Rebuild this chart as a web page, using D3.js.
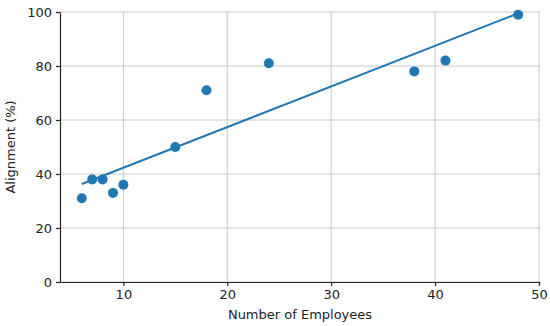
<!DOCTYPE html>
<html lang="en">
<head>
  <meta charset="UTF-8">
  <title>Alignment vs Employees</title>
  <script src="https://d3js.org/d3.v7.min.js"></script>
  <style>
    body { margin: 0; background: #fff; }
    text { font-family: "DejaVu Sans", sans-serif; fill: #222; }
    .axis text { font-size: 13px; }
    .axis path, .axis line { stroke: #222; stroke-width: 1.2; }
    .grid line { stroke: #c8c8c8; stroke-width: 1; }
  </style>
</head>
<body>
<div id="chart"></div>
<script>
// data
var employees = [6, 7, 8, 9, 10, 15, 18, 24, 38, 41, 48];
var alignment = [31, 38, 38, 33, 36, 50, 71, 81, 78, 82, 99];
// fitted trend line endpoints
var fitX = [6, 48];
var fitY = [36.3, 99.5];
var xTicks = [10, 20, 30, 40, 50];
var yTicks = [0, 20, 40, 60, 80, 100];

var margin = {top: 12, right: 10, bottom: 44, left: 60},
    width = 550 - margin.left - margin.right,
    height = 326 - margin.top - margin.bottom;

var svg = d3.select("#chart")
  .append("svg")
    .attr("width", 550)
    .attr("height", 326)
  .append("g")
    .attr("transform", "translate(" + margin.left + "," + margin.top + ")");

var x = d3.scaleLinear().domain([3.9, 50.1]).range([0, width]);
var y = d3.scaleLinear().domain([0, 100]).range([height, 0]);

// grid
svg.append("g").attr("class", "grid")
  .selectAll("line.v").data(xTicks).enter().append("line")
  .attr("x1", function(d) { return x(d); }).attr("x2", function(d) { return x(d); })
  .attr("y1", 0).attr("y2", height);
svg.append("g").attr("class", "grid")
  .selectAll("line.h").data(yTicks).enter().append("line")
  .attr("x1", 0).attr("x2", width)
  .attr("y1", function(d) { return y(d); }).attr("y2", function(d) { return y(d); });

// trend line
svg.append("path")
  .datum(fitX.map(function(d, i) { return [d, fitY[i]]; }))
  .attr("fill", "none")
  .attr("stroke", "#1f77b4")
  .attr("stroke-width", 2)
  .attr("d", d3.line().x(function(d) { return x(d[0]); }).y(function(d) { return y(d[1]); }));

// points
svg.selectAll(".dot")
  .data(employees)
  .enter().append("circle")
  .attr("class", "dot")
  .attr("cx", function(d) { return x(d); })
  .attr("cy", function(d, i) { return y(alignment[i]); })
  .attr("r", 5)
  .attr("fill", "#1f77b4");

// axes
var xAxis = svg.append("g").attr("class", "axis")
  .attr("transform", "translate(0," + height + ")")
  .call(d3.axisBottom(x).tickValues(xTicks).tickSize(4).tickPadding(4).tickSizeOuter(0));
var yAxis = svg.append("g").attr("class", "axis")
  .call(d3.axisLeft(y).tickValues(yTicks).tickSize(4).tickPadding(4).tickSizeOuter(0));
xAxis.selectAll("text").attr("font-family", null).attr("font-size", null);
yAxis.selectAll("text").attr("font-family", null).attr("font-size", null);

// labels
svg.append("text")
  .attr("x", width / 2)
  .attr("y", height + 37)
  .attr("text-anchor", "middle")
  .style("font-size", "13px")
  .text("Number of Employees");

svg.append("text")
  .attr("transform", "rotate(-90)")
  .attr("x", -height / 2)
  .attr("y", -45)
  .attr("text-anchor", "middle")
  .style("font-size", "13px")
  .text("Alignment (%)");
</script>
</body>
</html>
